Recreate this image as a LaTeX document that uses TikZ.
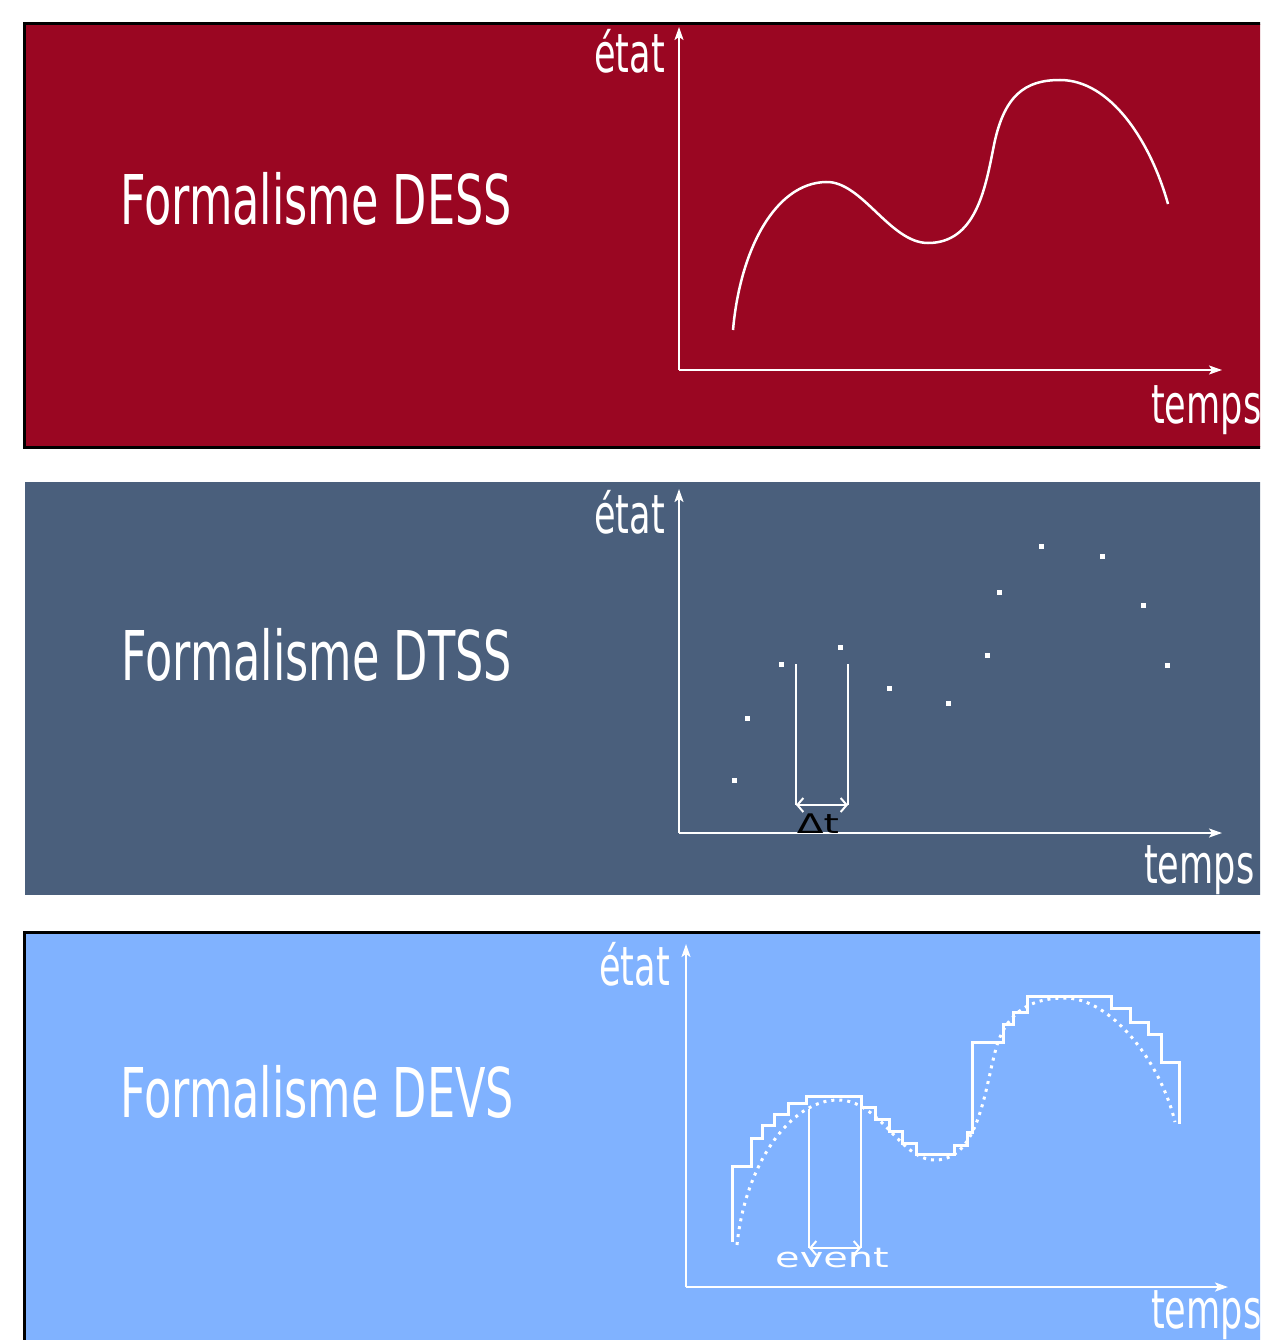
\documentclass[tikz,border=0pt]{standalone}
\usepackage{fontspec}
\usetikzlibrary{arrows,arrows.meta}
\newfontfamily\narrowsans[FakeStretch=0.65]{DejaVu Sans}
\newfontfamily\widesans[FakeStretch=1.45]{DejaVu Sans}
\definecolor{dessred}{RGB}{154,6,34}
\definecolor{dtssblue}{RGB}{74,95,124}
\definecolor{devsblue}{RGB}{128,178,255}

\tikzset{
  axis/.style={white, line width=2, -{Stealth[length=13pt,width=9pt,inset=3pt]}},
  courbe/.style={white, line width=2.5},
  escalier/.style={white, line width=3},
  repere/.style={white, line width=2},
  intervalle/.style={white, line width=2, {Straight Barb[length=6pt,width=14pt]}-{Straight Barb[length=6pt,width=14pt]}},
  titre/.style={white, anchor=base west, inner sep=0, font=\narrowsans\fontsize{68.6}{70}\selectfont},
  etiq/.style={white, inner sep=0, font=\narrowsans\fontsize{54}{56}\selectfont},
  point/.style={white},
}

\begin{document}
\begin{tikzpicture}[x=1pt,y=-1pt]
\useasboundingbox (0,0) rectangle (1260,1340);
\fill[white] (0,0) rectangle (1260,1340);
\clip (0,0) rectangle (1260,1340);

% DESS
\fill[dessred] (24,24) rectangle (1300,447);
\draw[line width=3] (1300,24) -- (24,24) -- (24,447) -- (1300,447);
\node[titre] (dess) at (120,225) {Formalisme DESS};
\coordinate (o1) at (679,370);
\coordinate (y1) at (679,27);
\coordinate (x1) at (1222,370);
\draw[axis] (o1) -- (y1);
\draw[axis] (o1) -- (x1);
\node[etiq, anchor=base east] (etat1) at (665,73) {état};
\node[etiq, anchor=base west] (temps1) at (1151,423) {temps};
\draw[courbe] (733,330) .. controls (740,250) and (775,183) .. (826,182)
  .. controls (862,181) and (890,243) .. (928,243)
  .. controls (975,243) and (985,190) .. (993,150)
  .. controls (1003,95) and (1025,80) .. (1060,80)
  .. controls (1110,80) and (1150,140) .. (1168,204);

% DTSS
\fill[dtssblue] (25,482) rectangle (1300,895);
\node[titre] (dtss) at (121,680) {Formalisme DTSS};
\coordinate (o2) at (679,833);
\coordinate (y2) at (679,489);
\coordinate (x2) at (1222,833);
\draw[axis] (o2) -- (y2);
\draw[axis] (o2) -- (x2);
\node[etiq, anchor=base east] (etat2) at (665,533) {état};
\node[etiq, anchor=base west] (temps2) at (1144,883) {temps};
\foreach \px/\py in {734/780, 747/718, 781/664, 840/647, 889/688, 948/703,
  987/655, 999/592, 1041/546, 1102/556, 1143/605, 1167/665}
  \fill[point] (\px-2.5,\py-2.5) rectangle (\px+2.5,\py+2.5);
\coordinate (dta) at (796,664);
\coordinate (dtb) at (848,664);
\coordinate (dtc) at (796,805);
\coordinate (dtd) at (848,805);
\draw[repere] (dta) -- (dtc);
\draw[repere] (dtb) -- (dtd);
\draw[intervalle] (dtc) -- (dtd);
\node[black, inner sep=0, anchor=base, font=\widesans\fontsize{27}{28}\selectfont] (dt) at (818,833) {Δt};

% DEVS
\fill[devsblue] (24,932) rectangle (1300,1400);
\draw[line width=3] (1300,932) -- (24,932) -- (24,1400);
\node[titre] (devs) at (120,1117) {Formalisme DEVS};
\coordinate (o3) at (686,1287);
\coordinate (y3) at (686,944);
\coordinate (x3) at (1228,1287);
\draw[axis] (o3) -- (y3);
\draw[axis] (o3) -- (x3);
\node[etiq, anchor=base east] (etat3) at (670,985) {état};
\node[etiq, anchor=base west] (temps3) at (1151,1328) {temps};
\draw[white, line width=3, dash pattern=on 3pt off 5pt]
  (737,1245) .. controls (745,1165) and (790,1100) .. (838,1100)
  .. controls (880,1100) and (900,1160) .. (935,1160)
  .. controls (980,1160) and (985,1085) .. (997,1045)
  .. controls (1010,1005) and (1040,998) .. (1065,998)
  .. controls (1110,998) and (1160,1060) .. (1175,1122);
\draw[escalier] (732,1242) |- (751,1166) |- (762,1138) |- (774,1125) |- (788,1114)
  |- (806,1103) |- (861,1096) |- (875,1107) |- (889,1119) |- (902,1131)
  |- (916,1143) |- (954,1154) |- (967,1145) |- (972,1132) |- (1003,1042)
  |- (1013,1024) |- (1027,1012) |- (1111,996) |- (1130,1008) |- (1148,1022)
  |- (1161,1034) |- (1179,1062) -- (1179,1124);
\coordinate (eva) at (809,1109);
\coordinate (evb) at (861,1096);
\coordinate (evc) at (809,1248);
\coordinate (evd) at (861,1248);
\draw[repere] (eva) -- (evc);
\draw[repere] (evb) -- (evd);
\draw[intervalle] (evc) -- (evd);
\node[white, inner sep=0, anchor=base, font=\widesans\fontsize{27.5}{28}\selectfont] (event) at (832,1267) {event};
\end{tikzpicture}
\end{document}
